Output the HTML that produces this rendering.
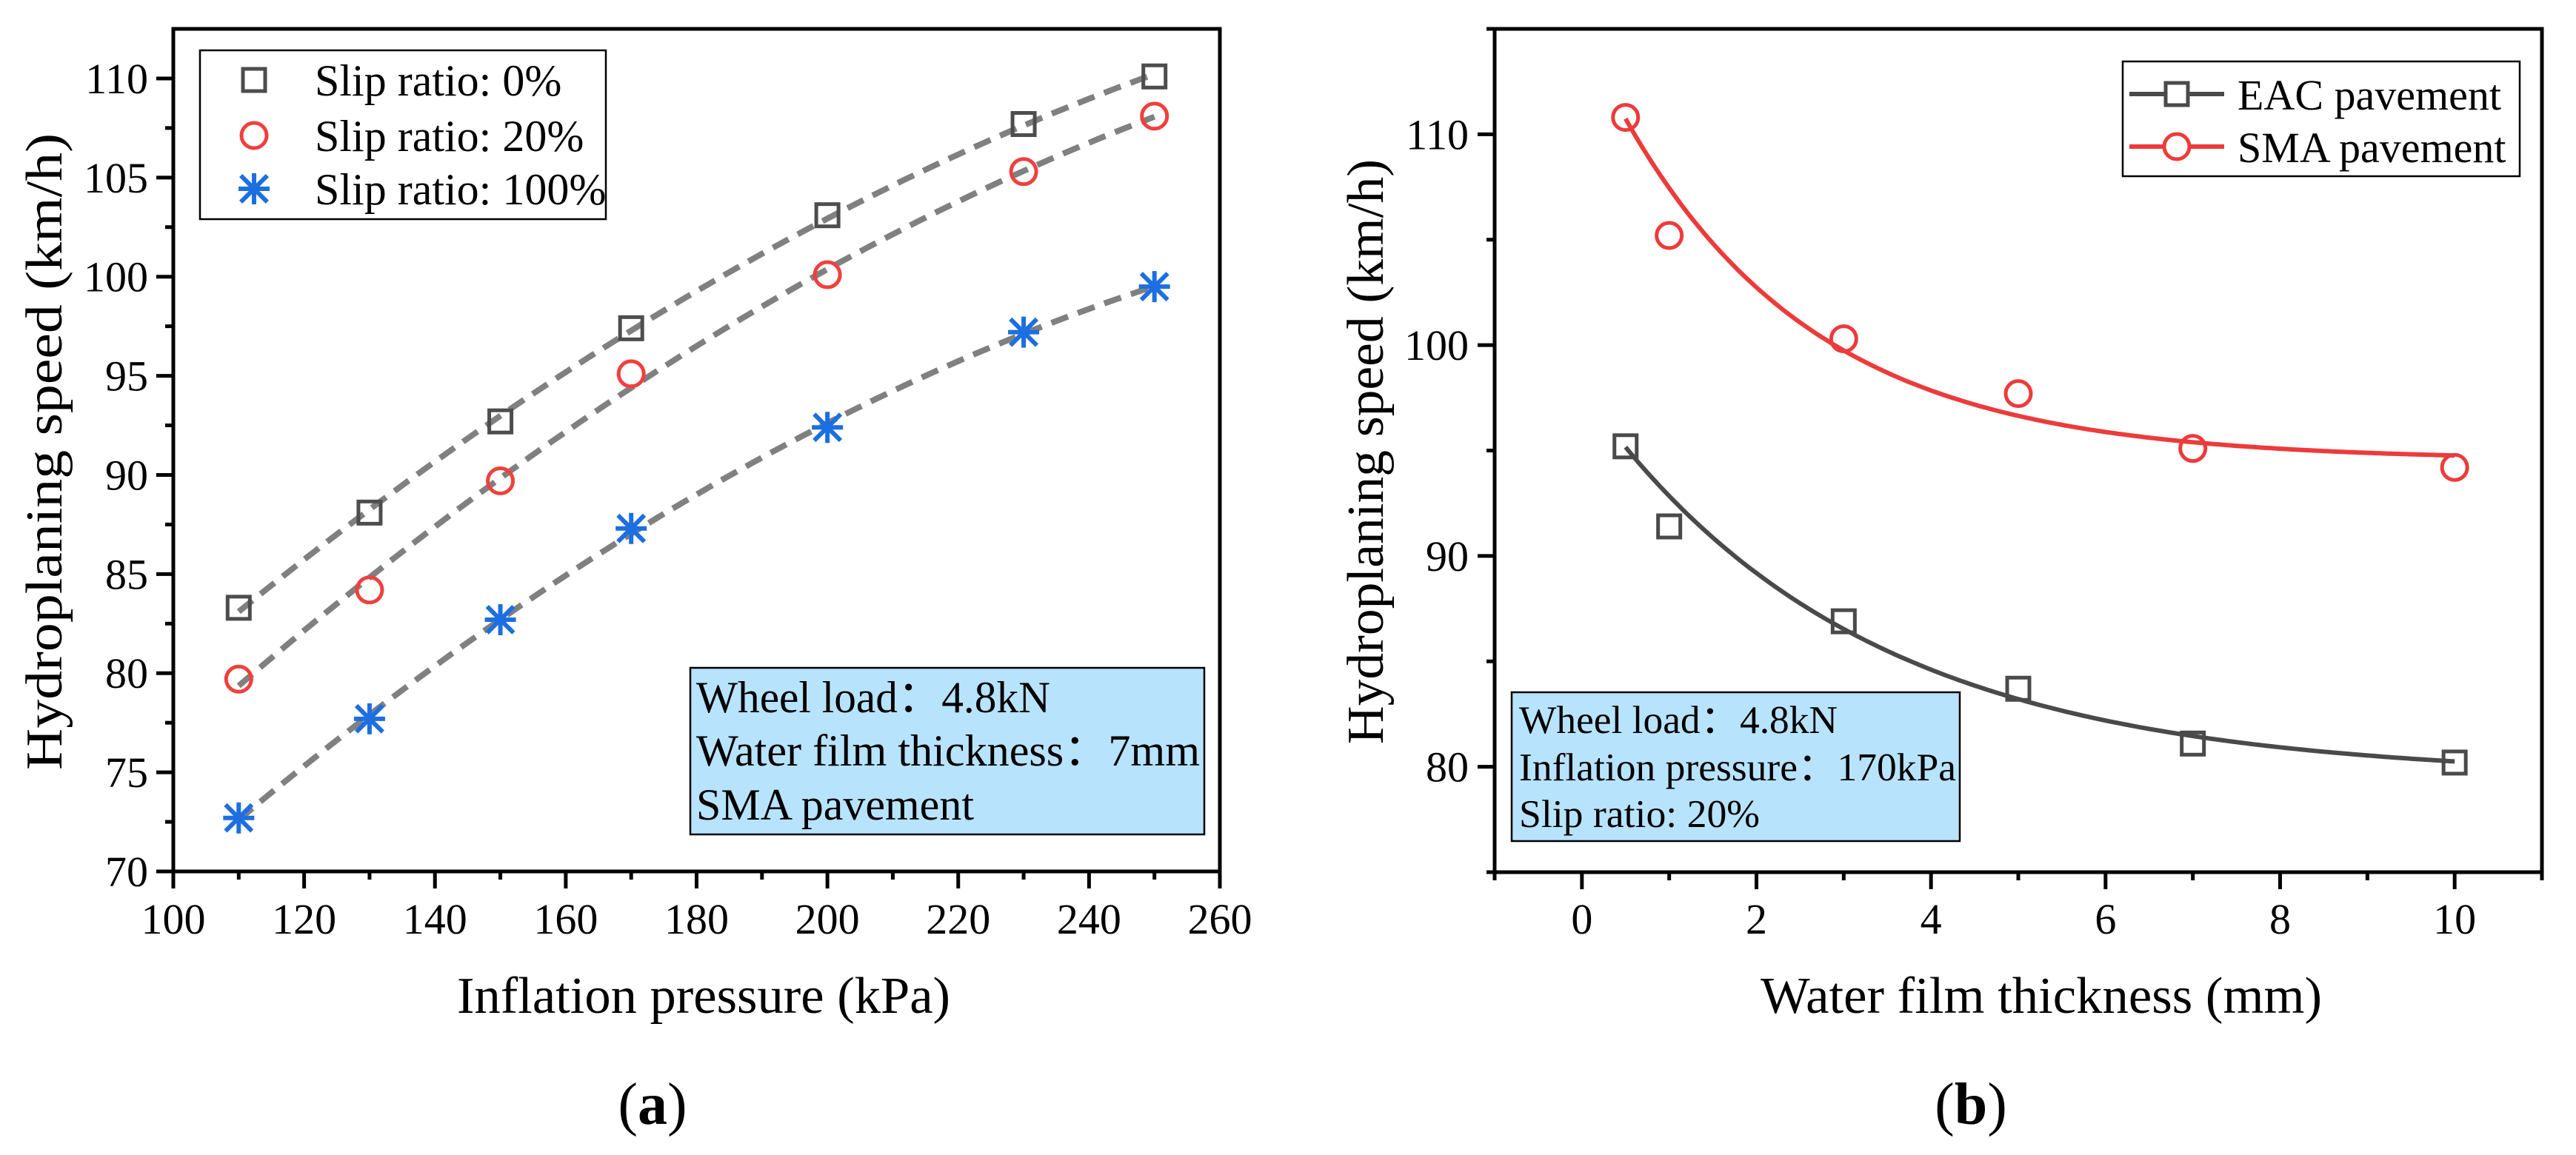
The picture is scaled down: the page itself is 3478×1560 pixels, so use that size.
<!DOCTYPE html>
<html><head><meta charset="utf-8">
<style>
html,body{margin:0;padding:0;background:#fff;}
svg{display:block;font-family:"Liberation Serif",serif;}
</style></head>
<body>
<svg id="chart" width="3478" height="1560" viewBox="0 0 3478 1560" xmlns="http://www.w3.org/2000/svg"></svg>
<script>
// ---------- Panel (a) data ----------
const pressures = [110, 130, 150, 170, 200, 230, 250];
const slip0 = [83.3, 88.1, 92.7, 97.4, 103.1, 107.7, 110.1];
const slip20 = [79.7, 84.2, 89.7, 95.1, 100.1, 105.3, 108.1];
const slip100 = [72.7, 77.7, 82.7, 87.3, 92.4, 97.2, 99.5];
const xTicksA = [100, 120, 140, 160, 180, 200, 220, 240, 260];
const yTicksA = [70, 75, 80, 85, 90, 95, 100, 105, 110];
// ---------- Panel (b) data ----------
const thickness = [0.5, 1, 3, 5, 7, 10];
const eac = [95.2, 91.4, 86.9, 83.7, 81.1, 80.2];
const sma = [110.8, 105.2, 100.3, 97.7, 95.1, 94.2];
const xTicksB = [0, 2, 4, 6, 8, 10];
const yTicksB = [80, 90, 100, 110];

const NS = "http://www.w3.org/2000/svg";
const svg = document.getElementById('chart');
function mk(tag, attrs, parent, text) {
  const e = document.createElementNS(NS, tag);
  for (const k in attrs) e.setAttribute(k, attrs[k]);
  if (text !== undefined) e.textContent = text;
  (parent || svg).appendChild(e);
  return e;
}

const A = {x0:234, x1:1647, y0:1177, y1:39, xmin:100, xmax:260, ymin:70, ymax:112.5};
const B = {x0:2018, x1:3432, y0:1178, y1:39, xmin:-1, xmax:11, ymin:75, ymax:115};
function sx(P, v){ return P.x0 + (v - P.xmin) / (P.xmax - P.xmin) * (P.x1 - P.x0); }
function sy(P, v){ return P.y0 - (v - P.ymin) / (P.ymax - P.ymin) * (P.y0 - P.y1); }

function drawFrame(P, name) {
  const r = mk('rect', {x:P.x0, y:P.y1, width:P.x1-P.x0, height:P.y0-P.y1, fill:'none', stroke:'#000', 'stroke-width':5});
  
  
}
function tickX(P, v, len, label, name) {
  const x = sx(P, v);
  const t = mk('line', {x1:x, x2:x, y1:P.y0, y2:P.y0+len, stroke:'#000', 'stroke-width':5});
  
  
  if (label !== null) {
    const l = mk('text', {x:x, y:1261, 'font-size':58, 'text-anchor':'middle'}, null, label);
    
    
  }
}
function tickY(P, v, len, label, name, lx) {
  const y = sy(P, v);
  const t = mk('line', {x1:P.x0-len, x2:P.x0, y1:y, y2:y, stroke:'#000', 'stroke-width':5});
  
  
  if (label !== null) {
    const l = mk('text', {x:lx, y:y+20, 'font-size':58, 'text-anchor':'end'}, null, label);
    
    
  }
}
function square(x, y, color, name) {
  const e = mk('rect', {x:x-15, y:y-15, width:30, height:30, fill:'none', stroke:color, 'stroke-width':5});
  
  
}
function circle(x, y, color, name) {
  const e = mk('circle', {cx:x, cy:y, r:17, fill:'none', stroke:color, 'stroke-width':5});
  
  
}
function star(x, y, color, name) {
  const g = mk('g', {stroke:color, 'stroke-width':6});
  
  
  const r = 21;
  mk('line', {x1:x, y1:y-r, x2:x, y2:y+r}, g);
  mk('line', {x1:x-r, y1:y, x2:x+r, y2:y}, g);
  const d = r*0.85;
  mk('line', {x1:x-d, y1:y-d, x2:x+d, y2:y+d}, g);
  mk('line', {x1:x-d, y1:y+d, x2:x+d, y2:y-d}, g);
}
function quadFit(xs, ys) {
  let S=[0,0,0,0,0], T=[0,0,0];
  for (let i=0;i<xs.length;i++){ const x=xs[i]; let p=1;
    for(let k=0;k<5;k++){S[k]+=p; p*=x;}
    T[0]+=ys[i]; T[1]+=ys[i]*x; T[2]+=ys[i]*x*x; }
  const M=[[S[0],S[1],S[2],T[0]],[S[1],S[2],S[3],T[1]],[S[2],S[3],S[4],T[2]]];
  for(let i=0;i<3;i++){ for(let j=i+1;j<3;j++){ const f=M[j][i]/M[i][i]; for(let k=i;k<4;k++) M[j][k]-=f*M[i][k]; } }
  const c=[0,0,0];
  for(let i=2;i>=0;i--){ let s=M[i][3]; for(let k=i+1;k<3;k++) s-=M[i][k]*c[k]; c[i]=s/M[i][i]; }
  return x => c[0]+c[1]*x+c[2]*x*x;
}
// weighted exponential decay fit y = a + b*exp(-x/t), first point heavily weighted
function expFit(xs, ys) {
  const w = xs.map((x,i)=> i===0 ? 25 : 1);
  let best=null;
  for (let t=0.3; t<12; t+=0.02) {
    const f = xs.map(x=>Math.exp(-x/t));
    let W=0,sf=0,sy_=0,sff=0,sfy=0;
    for(let i=0;i<xs.length;i++){W+=w[i];sf+=w[i]*f[i];sy_+=w[i]*ys[i];sff+=w[i]*f[i]*f[i];sfy+=w[i]*f[i]*ys[i];}
    const b=(W*sfy-sf*sy_)/(W*sff-sf*sf), a=(sy_-b*sf)/W;
    let err=0; for(let i=0;i<xs.length;i++){const d=a+b*f[i]-ys[i]; err+=w[i]*d*d;}
    if(!best||err<best.err) best={a,b,t,err};
  }
  return x => best.a + best.b*Math.exp(-x/best.t);
}

// ================= Panel (a) =================
drawFrame(A, 'panel-a');
xTicksA.forEach(v => tickX(A, v, 23, String(v), 'panel-a'));
for (let v=110; v<260; v+=20) tickX(A, v, 11, null, 'panel-a-minor');
yTicksA.forEach(v => tickY(A, v, 23, String(v), 'panel-a', 200));
for (let v=72.5; v<112.5; v+=5) tickY(A, v, 11, null, 'panel-a-minor');

[[slip0,'slip-0'],[slip20,'slip-20'],[slip100,'slip-100']].forEach(([ys,nm]) => {
  const f = quadFit(pressures, ys);
  let pts=[]; for (let x=110; x<=250.01; x+=2) pts.push(sx(A,x).toFixed(1)+','+sy(A,f(x)).toFixed(1));
  const pl = mk('polyline', {points:pts.join(' '), fill:'none', stroke:'#808080', 'stroke-width':8, 'stroke-dasharray':'24 14'});
  
  
});
pressures.forEach((p,i) => {
  square(sx(A,p), sy(A,slip0[i]), '#4d4d4d', 'slip-0-point');
  circle(sx(A,p), sy(A,slip20[i]), '#f0403e', 'slip-20-point');
  star(sx(A,p), sy(A,slip100[i]), '#1d6fe0', 'slip-100-point');
});
const lgA = mk('g', {});


mk('rect', {x:270, y:68, width:548, height:228, fill:'#fff', stroke:'#000', 'stroke-width':2.5}, lgA);
square(343, 108, '#4d4d4d', 'legend-slip-0-marker');
circle(343, 183, '#f0403e', 'legend-slip-20-marker');
star(343, 255, '#1d6fe0', 'legend-slip-100-marker');
[['Slip ratio: 0%',129],['Slip ratio: 20%',204],['Slip ratio: 100%',276]].forEach(([t,y]) => {
  const e = mk('text', {x:425, y:y, 'font-size':60}, lgA, t);
  
  
});
const ibA = mk('g', {});


mk('rect', {x:932, y:902, width:694, height:225, fill:'#b8e3fd', stroke:'#000', 'stroke-width':2.5}, ibA);
mk('text', {x:940, y:962, 'font-size':60, textLength:478, lengthAdjust:'spacingAndGlyphs'}, ibA, 'Wheel load：4.8kN');
mk('text', {x:940, y:1034, 'font-size':60, textLength:680, lengthAdjust:'spacingAndGlyphs'}, ibA, 'Water film thickness：7mm');
mk('text', {x:940, y:1107, 'font-size':60, textLength:375, lengthAdjust:'spacingAndGlyphs'}, ibA, 'SMA pavement');
let e;
e = mk('text', {x:950, y:1368, 'font-size':70, 'text-anchor':'middle', textLength:666, lengthAdjust:'spacingAndGlyphs'}, null, 'Inflation pressure (kPa)');
 
e = mk('text', {x:0, y:0, 'font-size':70, 'text-anchor':'middle', transform:'translate(83,610) rotate(-90)', textLength:860, lengthAdjust:'spacingAndGlyphs'}, null, 'Hydroplaning speed (km/h)');
 
e = mk('text', {x:881, y:1518, 'font-size':80, 'text-anchor':'middle'}, null, '');
e.innerHTML = '(<tspan font-weight="bold">a</tspan>)';
 

// ================= Panel (b) =================
drawFrame(B, 'panel-b');
xTicksB.forEach(v => tickX(B, v, 23, String(v), 'panel-b'));
for (let v=-1; v<=11; v+=2) tickX(B, v, 11, null, 'panel-b-minor');
yTicksB.forEach(v => tickY(B, v, 23, String(v), 'panel-b', 1983));
for (let v=75; v<=115; v+=10) tickY(B, v, 11, null, 'panel-b-minor');

[[eac,'eac','#4a4a4a'],[sma,'sma','#ec3b3b']].forEach(([ys,nm,col]) => {
  const f = expFit(thickness, ys);
  let pts=[]; for (let x=0.5; x<=10.001; x+=0.05) pts.push(sx(B,x).toFixed(1)+','+sy(B,f(x)).toFixed(1));
  const pl = mk('polyline', {points:pts.join(' '), fill:'none', stroke:col, 'stroke-width':6});
  
  
});
thickness.forEach((t,i) => {
  square(sx(B,t), sy(B,eac[i]), '#4a4a4a', 'eac-point');
  circle(sx(B,t), sy(B,sma[i]), '#ec3b3b', 'sma-point');
});
const lgB = mk('g', {});


mk('rect', {x:2866, y:83, width:536, height:155, fill:'#fff', stroke:'#000', 'stroke-width':2.5}, lgB);
mk('line', {x1:2875, x2:3003, y1:127, y2:127, stroke:'#4a4a4a', 'stroke-width':6}, lgB);
mk('line', {x1:2875, x2:3003, y1:198, y2:198, stroke:'#ec3b3b', 'stroke-width':6}, lgB);
mk('rect', {x:2924, y:112, width:30, height:30, fill:'#fff', stroke:'#4a4a4a', 'stroke-width':5}, lgB);
mk('circle', {cx:2939, cy:198, r:17, fill:'#fff', stroke:'#ec3b3b', 'stroke-width':5}, lgB);
e = mk('text', {x:3021, y:148, 'font-size':58}, lgB, 'EAC pavement');
 
e = mk('text', {x:3021, y:219, 'font-size':58}, lgB, 'SMA pavement');
 
const ibB = mk('g', {});


mk('rect', {x:2041, y:935, width:605, height:201, fill:'#b8e3fd', stroke:'#000', 'stroke-width':2.5}, ibB);
mk('text', {x:2051, y:990, 'font-size':53, textLength:430, lengthAdjust:'spacingAndGlyphs'}, ibB, 'Wheel load：4.8kN');
mk('text', {x:2051, y:1054, 'font-size':53, textLength:590, lengthAdjust:'spacingAndGlyphs'}, ibB, 'Inflation pressure：170kPa');
mk('text', {x:2051, y:1117, 'font-size':53, textLength:325, lengthAdjust:'spacingAndGlyphs'}, ibB, 'Slip ratio: 20%');
e = mk('text', {x:2756, y:1368, 'font-size':70, 'text-anchor':'middle', textLength:758, lengthAdjust:'spacingAndGlyphs'}, null, 'Water film thickness (mm)');
 
e = mk('text', {x:0, y:0, 'font-size':70, 'text-anchor':'middle', transform:'translate(1867,610) rotate(-90)', textLength:790, lengthAdjust:'spacingAndGlyphs'}, null, 'Hydroplaning speed (km/h)');
 
e = mk('text', {x:2661, y:1518, 'font-size':80, 'text-anchor':'middle'}, null, '');
e.innerHTML = '(<tspan font-weight="bold">b</tspan>)';
 
</script>
</body></html>
